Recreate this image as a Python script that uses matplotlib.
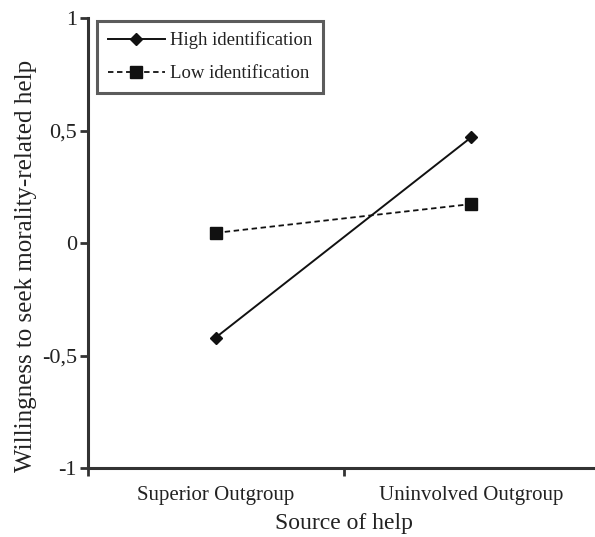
import numpy as np
import matplotlib
matplotlib.use("Agg")
import matplotlib.pyplot as plt

# values
sources = ["Superior Outgroup", "Uninvolved Outgroup"]
high_ident = [-0.42, 0.47]
low_ident = [0.045, 0.173]
y_ticks = [-1, -0.5, 0, 0.5, 1]
y_tick_labels = ["-1", "-0,5", "0", "0,5", "1"]

plt.rcParams.update({
    "font.family": "serif",
    "font.serif": ["Liberation Serif", "DejaVu Serif"],
    "text.color": "#222222",
    "axes.labelcolor": "#222222",
    "xtick.labelcolor": "#222222",
    "ytick.labelcolor": "#222222",
})

dark = "#333333"
fig = plt.figure(figsize=(5.95, 5.37), dpi=100)
ax = fig.add_axes([88 / 595, 69 / 537, 511 / 595, 450 / 537])

x = np.arange(len(sources))
ax.plot(x, high_ident, "-", color="#111111", lw=1.4, marker="D", ms=6.2,
        label="High identification")
ax.plot(x, low_ident, "--", color="#111111", lw=1.3, marker="s", ms=8.5,
        dashes=(3, 2), label="Low identification")

ax.set_xlim(-0.5, 1.5)
ax.set_ylim(-1, 1)
ax.set_yticks(y_ticks)
ax.set_yticklabels(y_tick_labels, fontsize=16)

ax.set_xticks([-0.5, 0.5])
ax.set_xticklabels([])
ax.set_xticks(x, minor=True)
ax.set_xticklabels(sources, minor=True, fontsize=15)
ax.tick_params(axis="x", which="minor", length=0, pad=13)
ax.tick_params(axis="x", which="major", length=6, width=2, color=dark, direction="out")
ax.tick_params(axis="y", length=6, width=2, color=dark, direction="out", pad=2)

for side in ["top", "right"]:
    ax.spines[side].set_visible(False)
for side in ["left", "bottom"]:
    ax.spines[side].set_linewidth(2.2)
    ax.spines[side].set_color(dark)

ax.set_xlabel("Source of help", fontsize=17, labelpad=6)
ax.set_ylabel("Willingness to seek morality-related help", fontsize=18)
ax.yaxis.set_label_coords(-0.1, 0.45)

leg = ax.legend(loc="upper left", bbox_to_anchor=(0.018, 0.993), fontsize=13.5,
                frameon=True, fancybox=False, handlelength=3.05,
                borderpad=0.55, borderaxespad=0, labelspacing=0.85,
                handletextpad=0.3)
leg.get_frame().set_edgecolor(dark)
leg.get_frame().set_linewidth(2.2)

fig.savefig("out.png", dpi=100)
